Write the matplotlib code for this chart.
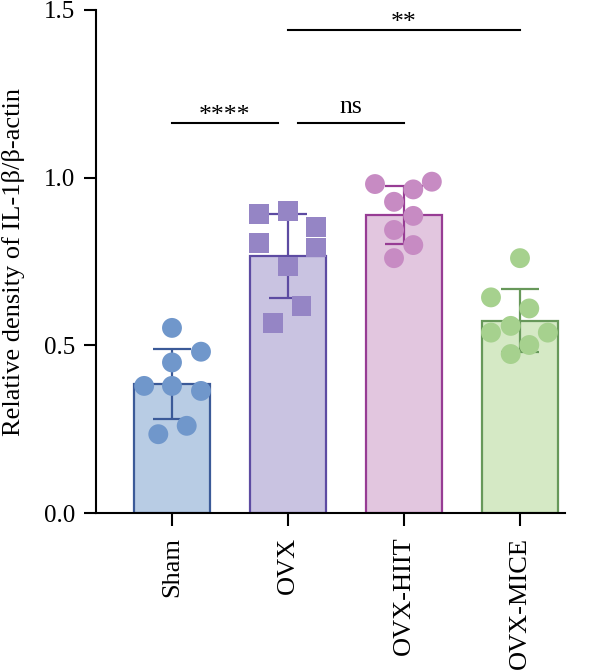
import matplotlib
matplotlib.use("Agg")
import matplotlib.pyplot as plt
import numpy as np

plt.rcParams['font.family'] = ['Liberation Serif', 'DejaVu Serif']

groups = ["Sham", "OVX", "OVX-HIIT", "OVX-MICE"]
means = [0.385, 0.766, 0.889, 0.574]
sds = [0.105, 0.125, 0.086, 0.094]

sham_pts = [0.552, 0.481, 0.449, 0.379, 0.379, 0.364, 0.260, 0.235]
ovx_pts = [0.892, 0.901, 0.852, 0.806, 0.792, 0.735, 0.617, 0.566]
hiit_pts = [0.981, 0.988, 0.965, 0.928, 0.886, 0.844, 0.799, 0.760]
mice_pts = [0.760, 0.643, 0.610, 0.558, 0.538, 0.538, 0.501, 0.474]

sham_jit = [0.0, 0.25, 0.0, -0.24, 0.0, 0.25, 0.127, -0.118]
ovx_jit = [-0.25, 0.0, 0.24, -0.25, 0.24, 0.0, 0.118, -0.127]
hiit_jit = [-0.25, 0.24, 0.08, -0.086, 0.08, -0.086, 0.08, -0.086]
mice_jit = [0.0, -0.25, 0.08, -0.08, -0.25, 0.24, 0.08, -0.08]

points = [sham_pts, ovx_pts, hiit_pts, mice_pts]
jitters = [sham_jit, ovx_jit, hiit_jit, mice_jit]
markers = ["o", "s", "o", "o"]

fill_colors = ["#b8cce4", "#c9c3e1", "#e2c6df", "#d5e9c5"]
edge_colors = ["#3b5a98", "#5d4ba2", "#973c94", "#67985a"]
point_colors = ["#7097cb", "#9585c5", "#c78bc3", "#a6d18e"]

# significance annotations
sig_x1 = [0.0, 1.09, 1.0]
sig_x2 = [0.91, 2.0, 3.0]
sig_y = [1.164, 1.164, 1.44]
sig_lab = ["****", "ns", "**"]

fig = plt.figure(figsize=(6.0, 6.7), dpi=100)
ax = fig.add_axes([96/600, 1-513/670, 469/600, 503/670])

x = np.arange(len(groups))
ax.bar(x, means, width=0.65, color=fill_colors, edgecolor=edge_colors,
       linewidth=1.6, zorder=1)
for i in range(len(groups)):
    ax.errorbar(x[i], means[i], yerr=sds[i], fmt='none', ecolor=edge_colors[i],
                elinewidth=1.6, capsize=14, capthick=1.6, zorder=2)
    xs = x[i] + np.array(jitters[i])
    ax.scatter(xs, points[i], s=205 if markers[i] == "o" else 200,
               marker=markers[i], color=point_colors[i], edgecolors='none',
               zorder=3, clip_on=False)

for x1, x2, y, lab in zip(sig_x1, sig_x2, sig_y, sig_lab):
    ax.plot([x1, x2], [y, y], color='black', lw=1.5, zorder=4, clip_on=False)
    off = 0.03 if lab == "ns" else 0.002
    ax.text((x1 + x2) / 2, y + off, lab, ha='center', va='baseline',
            fontsize=18.5, zorder=5)

ax.set_xlim(-0.655, 3.388)
ax.set_ylim(0, 1.5)
ax.set_yticks([0.0, 0.5, 1.0, 1.5])
ax.set_yticklabels(["0.0", "0.5", "1.0", "1.5"], fontsize=18)
ax.set_xticks(x)
ax.set_xticklabels(groups, rotation=90, fontsize=19)
ax.set_ylabel("Relative density of IL-1β/β-actin", fontsize=19)
ax.yaxis.set_label_coords(-0.152, 0.5)

for s in ['top', 'right']:
    ax.spines[s].set_visible(False)
for s in ['left', 'bottom']:
    ax.spines[s].set_linewidth(1.5)
ax.tick_params(axis='both', width=1.5, length=9)
ax.tick_params(axis='y', pad=6)
ax.tick_params(axis='x', pad=8)

fig.savefig("out.png", dpi=100)
